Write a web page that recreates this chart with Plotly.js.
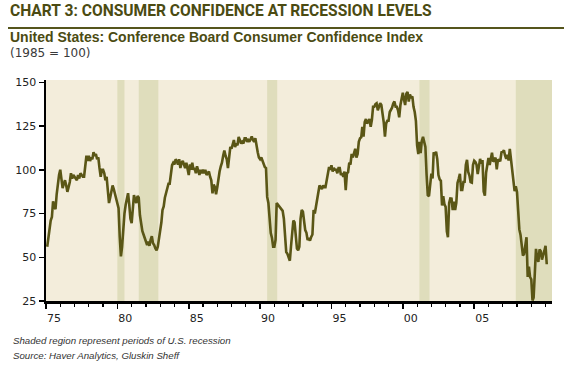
<!DOCTYPE html>
<html>
<head>
<meta charset="utf-8">
<script src="https://cdn.plot.ly/plotly-3.0.1.min.js"></script>
<style>
  html, body { margin: 0; padding: 0; background: #ffffff; }
  #chart { width: 564px; height: 366px; }
</style>
</head>
<body>
<div id="chart"></div>
<script>
// Conference Board Consumer Confidence Index (1985 = 100), monthly, from Feb 1975 to Feb 2010
const firstYear = 1975;
const firstMonth = 2;
const confidence = [
  56, 62, 68, 71, 73, 82, 79, 77.5, 86, 94, 97,                              // 1975 (Feb-Dec)
  100, 95, 89.5, 92, 94, 91, 87.4, 90, 93, 98, 95, 97,                       // 1976
  96, 95, 94, 97, 95, 98, 97, 96, 96, 103, 108, 105,                         // 1977
  108, 105, 107, 106, 110, 108, 109, 106, 107, 101, 96, 100,                 // 1978
  100, 98, 94, 96, 90, 81, 84, 88, 91, 89, 86, 84,                           // 1979
  82, 78, 62, 50.5, 56, 68, 75, 80, 83, 86.6, 80, 72,                        // 1980
  69.5, 78, 85.5, 83, 81, 85, 84, 74, 67.4, 65, 63, 61,                      // 1981
  60, 57, 59, 56.5, 60, 62, 58, 57, 55, 54, 56, 60,                          // 1982
  64, 70, 77, 79, 84, 87, 88, 92, 92, 97, 102.6, 104,                        // 1983
  103, 106, 105, 103, 106, 101, 104, 105, 103, 101, 104, 99,                 // 1984
  97, 103, 100, 104, 100, 101, 98, 102, 99, 97, 100, 98,                     // 1985
  100, 98, 100, 97, 98, 99, 96, 94, 86.5, 91.5, 90, 86,                      // 1986
  90, 96, 99, 102, 104, 108, 111, 108, 106, 101, 107, 113,                   // 1987
  112, 114, 117, 113, 115, 114, 118.8, 117, 115, 116, 115, 118,              // 1988
  118, 116, 117, 116, 118, 119, 117, 116, 118, 113, 110, 107,                // 1989
  106, 107, 105, 104, 101.6, 101, 84.5, 81, 72, 63.8, 61, 56,                // 1990
  56, 60, 81, 80, 79.5, 78, 77, 76.5, 72, 59.8, 53, 52,                      // 1991
  50, 48, 56, 66, 71, 70, 62, 55, 54, 56, 72, 77,                            // 1992
  76, 68, 65.5, 64, 59.8, 61, 59.5, 61.6, 63, 77, 75, 79,                    // 1993
  82.6, 86, 91, 90, 89, 91, 90, 90, 94, 97, 101.6, 100,                      // 1994
  102.6, 99, 101, 100, 100, 98, 101, 101, 97, 98, 96, 99,                    // 1995
  88.4, 98, 98.5, 104, 103, 109, 107, 109.5, 112, 107, 109, 116,             // 1996
  118, 118.5, 124.5, 119, 127.3, 129, 126.5, 127.5, 129, 124.5, 128.5, 136,  // 1997
  136, 137.5, 138, 134, 136, 138, 137, 133, 127, 119, 126.5, 128,            // 1998
  128, 133, 134, 135.5, 137.8, 139, 136, 136, 134, 130, 137, 141.5,          // 1999
  144, 140, 137, 143.5, 144.5, 139, 143, 141, 142, 136, 133, 128,            // 2000
  114, 109, 116, 109.5, 116.5, 118.8, 116, 113, 97, 85.5, 84.9, 94,          // 2001
  97.8, 95, 110, 108.5, 110.3, 106, 97, 94.5, 93.7, 79.6, 84.9, 80.3,        // 2002
  78.8, 64.8, 61.4, 81, 83.6, 83.5, 77, 81.7, 77, 81.1, 92.5, 94.8,          // 2003
  97.7, 88.5, 88.5, 93, 93.1, 102.8, 105.7, 98.7, 96.7, 92.9, 92.6, 102.7,   // 2004
  105.1, 104.4, 103, 97.5, 103.1, 106.2, 103.6, 105.5, 87.5, 85.2, 98.3, 103.8, // 2005
  106.8, 102.7, 107.5, 109.8, 104.7, 105.4, 107, 100.2, 105.9, 105.1, 105.3, 110, // 2006
  110.2, 111.2, 108.2, 106.3, 108.5, 105.3, 111.9, 105.6, 99.5, 95.2, 87.8, 90.6, // 2007
  87.3, 76.4, 65.9, 62.8, 58.1, 51, 51.9, 58.5, 61.4, 38.8, 44.7, 38.6,      // 2008
  37.4, 25.3, 26.9, 40.8, 54.8, 49.3, 47.4, 54.5, 53.4, 48.7, 50.6, 53.6,    // 2009
  56.5, 46                                                                   // 2010 (Jan-Feb)
];

// U.S. recessions (shaded)
const recessionStart = ['1980-01-01', '1981-07-01', '1990-07-01', '2001-03-01', '2007-12-01'];
const recessionEnd   = ['1980-07-01', '1982-11-15', '1991-03-15', '2001-11-15', '2010-06-15'];

// axis ticks
const tickYears  = ['1975-01-01', '1980-01-01', '1985-01-01', '1990-01-01', '1995-01-01', '2000-01-01', '2005-01-01'];
const tickLabels = ['75', '80', '85', '90', '95', '00', '05'];
const yTicks = [25, 50, 75, 100, 125, 150];

// month labels for the monthly series
const months = confidence.map((v, i) => {
  const m = firstMonth - 1 + i;
  const y = firstYear + Math.floor(m / 12);
  const mm = (m % 12) + 1;
  return y + '-' + (mm < 10 ? '0' + mm : mm) + '-01';
});

const olive = '#4b4b12';
const lineColor = '#5a5616';

const trace = {
  x: months,
  y: confidence,
  type: 'scatter',
  mode: 'lines',
  line: { color: lineColor, width: 2.6 },
  hoverinfo: 'x+y'
};

const shapes = recessionStart.map((s, i) => ({
  type: 'rect', xref: 'x', yref: 'paper',
  x0: s, x1: recessionEnd[i], y0: 0, y1: 1,
  fillcolor: '#dfddbc', line: { width: 0 }, layer: 'below'
}));
// rule under the chart title
shapes.push({
  type: 'line', xref: 'paper', yref: 'paper',
  x0: (8 - 46) / 506, x1: (564 - 46) / 506,
  y0: (301 - 28) / 221, y1: (301 - 28) / 221,
  line: { color: '#55551c', width: 2 }
});

function py(p) { return (301 - p) / 221; }
const xLeft = (8 - 46) / 506;

const layout = {
  width: 564, height: 366,
  margin: { l: 46, r: 12, t: 80, b: 65, pad: 0 },
  paper_bgcolor: '#ffffff',
  plot_bgcolor: '#f3eddb',
  showlegend: false,
  xaxis: {
    type: 'date',
    range: ['1975-01-01', '2010-06-15'],
    tickmode: 'array',
    tickvals: tickYears,
    ticktext: tickLabels,
    ticklabelshift: 8,
    ticks: 'outside', ticklen: 5, tickwidth: 1.5, tickcolor: '#000',
    minor: { tickmode: 'linear', tick0: '1975-01-01', dtick: 'M12', ticks: 'outside', ticklen: 3, tickwidth: 1.2, tickcolor: '#000', showgrid: false },
    showline: true, linecolor: '#000', linewidth: 2.5,
    showgrid: false, zeroline: false,
    tickfont: { family: 'DejaVu Sans', size: 11, color: '#222' },
    fixedrange: true
  },
  yaxis: {
    range: [25, 151.3],
    tickmode: 'array',
    tickvals: yTicks,
    ticks: 'outside', ticklen: 5, tickwidth: 1.5, tickcolor: '#000',
    showline: true, linecolor: '#000', linewidth: 2.5,
    showgrid: false, zeroline: false,
    tickfont: { family: 'DejaVu Sans', size: 11, color: '#222' },
    fixedrange: true
  },
  shapes: shapes,
  annotations: [
    { text: '<b>CHART 3: CONSUMER CONFIDENCE AT RECESSION LEVELS</b>', xref: 'paper', yref: 'paper',
      x: xLeft, y: py(10.5), xanchor: 'left', yanchor: 'middle', showarrow: false,
      font: { family: 'Roboto, sans-serif', size: 15.6, color: olive } },
    { text: '<b>United States: Conference Board Consumer Confidence Index</b>', xref: 'paper', yref: 'paper',
      x: xLeft, y: py(36.5), xanchor: 'left', yanchor: 'middle', showarrow: false,
      font: { family: 'Liberation Sans, Arial, sans-serif', size: 14, color: olive } },
    { text: '(1985 = 100)', xref: 'paper', yref: 'paper',
      x: xLeft, y: py(52.5), xanchor: 'left', yanchor: 'middle', showarrow: false,
      font: { family: 'DejaVu Sans, sans-serif', size: 12, color: '#3a3a3a' } },
    { text: '<i>Shaded region represent periods of U.S. recession</i>', xref: 'paper', yref: 'paper',
      x: (11 - 46) / 506, y: py(340.5), xanchor: 'left', yanchor: 'middle', showarrow: false,
      font: { family: 'Liberation Sans, Arial, sans-serif', size: 9.7, color: '#333' } },
    { text: '<i>Source: Haver Analytics, Gluskin Sheff</i>', xref: 'paper', yref: 'paper',
      x: (11 - 46) / 506, y: py(355.5), xanchor: 'left', yanchor: 'middle', showarrow: false,
      font: { family: 'Liberation Sans, Arial, sans-serif', size: 9.7, color: '#333' } }
  ]
};

Plotly.newPlot('chart', [trace], layout, { displayModeBar: false, staticPlot: true });
</script>
</body>
</html>
